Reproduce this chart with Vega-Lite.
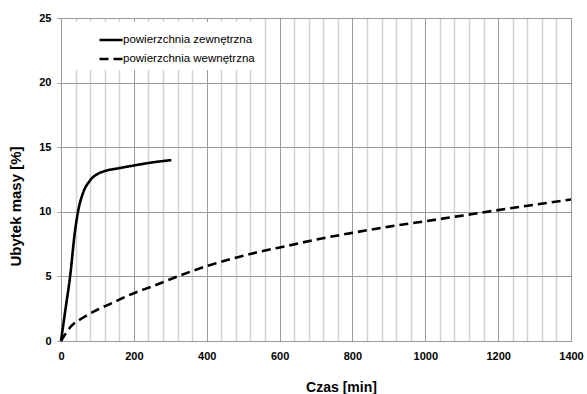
{
  "$schema": "https://vega.github.io/schema/vega-lite/v6.json",
  "width": 510,
  "height": 323,
  "autosize": "none",
  "padding": {"left": 61, "top": 18, "right": 16, "bottom": 53},
  "background": "white",
  "config": {
    "view": {"stroke": "#999999", "strokeWidth": 1},
    "font": "Liberation Sans"
  },
  "data": {
    "values": [
      {"t": 0, "v": 0, "s": "powierzchnia zewnętrzna"},
      {"t": 12, "v": 2.4, "s": "powierzchnia zewnętrzna"},
      {"t": 25, "v": 5.0, "s": "powierzchnia zewnętrzna"},
      {"t": 38, "v": 8.4, "s": "powierzchnia zewnętrzna"},
      {"t": 47, "v": 10.05, "s": "powierzchnia zewnętrzna"},
      {"t": 61, "v": 11.5, "s": "powierzchnia zewnętrzna"},
      {"t": 79, "v": 12.4, "s": "powierzchnia zewnętrzna"},
      {"t": 102, "v": 12.96, "s": "powierzchnia zewnętrzna"},
      {"t": 120, "v": 13.15, "s": "powierzchnia zewnętrzna"},
      {"t": 160, "v": 13.38, "s": "powierzchnia zewnętrzna"},
      {"t": 203, "v": 13.6, "s": "powierzchnia zewnętrzna"},
      {"t": 250, "v": 13.82, "s": "powierzchnia zewnętrzna"},
      {"t": 303, "v": 14.0, "s": "powierzchnia zewnętrzna"},
      {"t": 0, "v": 0, "s": "powierzchnia wewnętrzna"},
      {"t": 28, "v": 1.15, "s": "powierzchnia wewnętrzna"},
      {"t": 60, "v": 1.8, "s": "powierzchnia wewnętrzna"},
      {"t": 101, "v": 2.44, "s": "powierzchnia wewnętrzna"},
      {"t": 142, "v": 2.96, "s": "powierzchnia wewnętrzna"},
      {"t": 179, "v": 3.45, "s": "powierzchnia wewnętrzna"},
      {"t": 202, "v": 3.72, "s": "powierzchnia wewnętrzna"},
      {"t": 257, "v": 4.3, "s": "powierzchnia wewnętrzna"},
      {"t": 293, "v": 4.7, "s": "powierzchnia wewnętrzna"},
      {"t": 330, "v": 5.1, "s": "powierzchnia wewnętrzna"},
      {"t": 381, "v": 5.62, "s": "powierzchnia wewnętrzna"},
      {"t": 454, "v": 6.25, "s": "powierzchnia wewnętrzna"},
      {"t": 536, "v": 6.85, "s": "powierzchnia wewnętrzna"},
      {"t": 627, "v": 7.4, "s": "powierzchnia wewnętrzna"},
      {"t": 700, "v": 7.85, "s": "powierzchnia wewnętrzna"},
      {"t": 800, "v": 8.37, "s": "powierzchnia wewnętrzna"},
      {"t": 900, "v": 8.85, "s": "powierzchnia wewnętrzna"},
      {"t": 1000, "v": 9.27, "s": "powierzchnia wewnętrzna"},
      {"t": 1100, "v": 9.7, "s": "powierzchnia wewnętrzna"},
      {"t": 1200, "v": 10.13, "s": "powierzchnia wewnętrzna"},
      {"t": 1300, "v": 10.55, "s": "powierzchnia wewnętrzna"},
      {"t": 1400, "v": 10.95, "s": "powierzchnia wewnętrzna"}
    ]
  },
  "mark": {"type": "line", "interpolate": "monotone", "color": "black", "strokeWidth": 2.6},
  "encoding": {
    "x": {
      "field": "t",
      "type": "quantitative",
      "scale": {"domain": [0, 1400], "nice": false},
      "axis": {
        "values": [0,40,80,120,160,200,240,280,320,360,400,440,480,520,560,600,640,680,720,760,800,840,880,920,960,1000,1040,1080,1120,1160,1200,1240,1280,1320,1360,1400],
        "format": "d",
        "labelExpr": "datum.value % 200 === 0 ? datum.label : ''",
        "labelOverlap": false,
        "labelFlush": false,
        "ticks": false,
        "labelPadding": 9,
        "labelFont": "Liberation Sans",
        "labelFontWeight": "bold",
        "labelFontSize": 11,
        "labelColor": "black",
        "gridColor": {"condition": {"test": "datum.value % 200 === 0", "value": "#9a9a9a"}, "value": "#d2d2d2"},
        "gridWidth": {"condition": {"test": "datum.value % 200 === 0", "value": 1}, "value": 1.5},
        "gridOpacity": 1,
        "domainColor": "#999999",
        "title": "Czas [min]",
        "titleFont": "Liberation Sans",
        "titleFontSize": 14,
        "titleFontWeight": "bold",
        "titleColor": "black",
        "titleX": 280,
        "titleY": 46,
        "titleBaseline": "middle",
        "titleAlign": "center"
      }
    },
    "y": {
      "field": "v",
      "type": "quantitative",
      "scale": {"domain": [0, 25], "nice": false},
      "axis": {
        "values": [0, 5, 10, 15, 20, 25],
        "tickSize": 4,
        "tickColor": "#999999",
        "labelPadding": 6,
        "labelFont": "Liberation Sans",
        "labelFontWeight": "bold",
        "labelFontSize": 11,
        "labelColor": "black",
        "gridColor": "#9a9a9a",
        "gridOpacity": 1,
        "domainColor": "#999999",
        "title": "Ubytek masy [%]",
        "titleFont": "Liberation Sans",
        "titleFontSize": 15,
        "titleFontWeight": "bold",
        "titleColor": "black",
        "titleX": -46,
        "titleY": 188,
        "titleBaseline": "middle",
        "titleAlign": "center",
        "titleAngle": -90
      }
    },
    "strokeDash": {
      "field": "s",
      "type": "nominal",
      "scale": {
        "domain": ["powierzchnia zewnętrzna", "powierzchnia wewnętrzna"],
        "range": [[1, 0], [9, 5]]
      },
      "legend": {
        "orient": "none",
        "legendX": 1,
        "legendY": 4,
        "title": null,
        "fillColor": "white",
        "padding": 5,
        "symbolType": "stroke",
        "symbolSize": 529,
        "symbolStrokeColor": "black",
        "symbolStrokeWidth": 2.5,
        "symbolOffset": 31,
        "labelOffset": -1,
        "labelFont": "Liberation Sans",
        "labelFontSize": 11.5,
        "labelColor": "black",
        "rowPadding": 0,
        "labelLimit": 300
      }
    }
  }
}
